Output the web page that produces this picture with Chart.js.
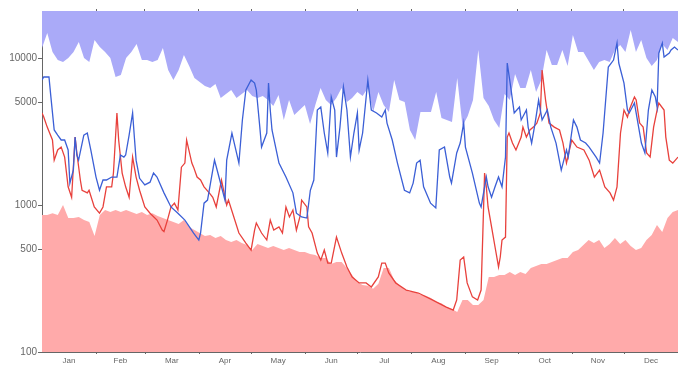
<!DOCTYPE html>
<html>
<head>
<meta charset="utf-8">
<script src="https://cdn.jsdelivr.net/npm/chart.js@4/dist/chart.umd.min.js"></script>
<style>
  html, body { margin: 0; padding: 0; background: #fff; overflow: hidden; }
  canvas { display: block; }
</style>
</head>
<body>
<canvas id="chart" width="678" height="365"></canvas>
<script>
// month labels and where each month starts (day of year)
const months = ['Jan', 'Feb', 'Mar', 'Apr', 'May', 'Jun', 'Jul', 'Aug', 'Sep', 'Oct', 'Nov', 'Dec'];
const monthStarts = [0, 31, 59, 90, 120, 151, 181, 212, 243, 273, 304, 334, 365];
const yTicks = [100, 500, 1000, 5000, 10000];

// envelopes, readings spread evenly over the year (about every 3 days)
const upperEnvelope = [
  11700, 14800, 10990, 9690, 9390, 10000, 10990, 12850, 10000, 9390,
  13260, 11880, 10990, 10000, 7430, 7660, 10000, 10990, 12450, 9690,
  9690, 9390, 9690, 11700, 8290, 7090, 8290, 10480, 8820, 7310,
  6870, 6450, 6250, 6660, 5350, 5690, 6060, 5350, 5690, 6060,
  5520, 5350, 5520, 5180, 4720, 5600, 3790, 5180, 4100, 4430,
  4790, 3560, 4790, 6250, 5180, 4790, 5350, 6250, 5020, 5350,
  5870, 5520, 6250, 4290, 5870, 4790, 4290, 7090, 5180, 5020,
  3240, 2770, 4290, 4290, 4290, 5870, 3910, 3790, 3670, 7310,
  3450, 4030, 5180, 11340, 5350, 4720, 3790, 3340, 5690, 5180,
  7790, 6250, 6250, 8290, 5870, 7090, 11340, 8960, 8960, 11340,
  8820, 14340, 10990, 10990, 9540, 8290, 9390, 9690, 9390, 11340,
  12260, 10990, 15500, 10990, 13260, 10000, 8820, 9690, 12450, 11340,
  13680, 12850
];
const lowerEnvelope = [
  855, 855, 880, 855, 1000, 815, 815, 830, 790, 766,
  615, 855, 925, 896, 925, 896, 925, 896, 868, 896,
  855, 880, 841, 815, 790, 766, 743, 790, 710, 675,
  645, 615, 625, 596, 615, 578, 560, 578, 551, 534,
  494, 543, 526, 510, 526, 510, 494, 510, 494, 479,
  479, 464, 457, 436, 436, 397, 409, 409, 373, 334,
  300, 286, 282, 269, 291, 373, 373, 309, 286, 264,
  256, 256, 245, 241, 233, 219, 215, 202, 196, 187,
  226, 226, 209, 209, 226, 324, 324, 334, 334, 350,
  334, 350, 339, 373, 385, 397, 397, 409, 422, 436,
  436, 479, 494, 534, 578, 551, 578, 510, 543, 596,
  543, 578, 526, 494, 510, 578, 625, 730, 655, 815,
  896, 925
];

// blue series
const blueDays = [
  0, 1, 4, 5, 7, 9, 11, 13, 15, 16, 18, 19, 20, 21, 24, 26, 28, 31, 33, 35,
  37, 40, 43, 45, 47, 48, 50, 52, 53, 54, 56, 59, 62, 64, 66, 70, 74, 78, 82, 85,
  87, 90, 91, 93, 95, 99, 102, 105, 106, 109, 113, 115, 117, 120, 122, 123, 125, 126, 129, 130,
  131, 132, 136, 140, 144, 146, 149, 152, 154, 156, 158, 160, 162, 164, 166, 168, 169, 171, 173, 175,
  177, 179, 181, 182, 184, 187, 189, 192, 195, 197, 198, 201, 204, 208, 211, 213, 215, 217, 219, 223,
  226, 228, 231, 234, 235, 238, 240, 242, 243, 247, 251, 252, 255, 256, 258, 260, 262, 264, 266, 267,
  269, 271, 274, 275, 278, 279, 281, 283, 285, 287, 290, 292, 295, 298, 301, 302, 305, 307, 309, 312,
  314, 318, 320, 322, 325, 328, 330, 331, 334, 336, 337, 340, 342, 344, 346, 348, 350, 352, 353, 354,
  356, 357, 360, 361, 363, 365
];
const blueLine = [
  7090, 7430, 7430, 5600, 3240, 2990, 2770, 2770, 2370, 1410, 1730, 2900, 2190, 2020, 2990, 3090, 2370, 1550, 1260, 1480,
  1480, 1550, 1550, 2190, 2120, 2190, 2990, 4230, 2900, 2020, 1520, 1370, 1430, 1650, 1550, 1210, 970, 880, 790, 700,
  645, 578, 645, 1030, 1080, 2020, 1480, 1080, 2020, 3090, 1930, 3790, 6060, 7090, 6760, 6060, 3390, 2480, 3090, 6760,
  4430, 3240, 1930, 1550, 1210, 880, 830, 815, 1260, 1480, 4430, 4640, 3090, 2260, 5430, 4430, 2120, 3390, 6350, 4430,
  2120, 3090, 4230, 2370, 3090, 7090, 4430, 4230, 3970, 4430, 3610, 2770, 1930, 1260, 1210, 1410, 1930, 2020, 1330, 1030,
  955, 2370, 2480, 1550, 1410, 2260, 2640, 3610, 2480, 1650, 1030, 970, 1550, 1330, 1130, 1330, 1550, 1330, 2120, 9250,
  6350, 4230, 4640, 3790, 4430, 3390, 2640, 3610, 5180, 3790, 4430, 3390, 2640, 1730, 2370, 2120, 3790, 3390, 2770, 2640,
  2480, 2120, 1930, 3090, 8690, 9690, 12650, 9250, 6760, 4430, 4230, 4940, 3610, 2640, 2260, 4430, 6060, 5430, 4640, 10810,
  12650, 10160, 10810, 11340, 11880, 11340
];

// red series
const redDays = [
  0, 1, 3, 6, 7, 9, 11, 13, 15, 17, 19, 20, 22, 23, 26, 27, 30, 33, 35, 37,
  40, 41, 43, 44, 46, 48, 50, 52, 54, 56, 59, 62, 66, 69, 70, 72, 74, 76, 78, 80,
  82, 83, 86, 87, 89, 91, 93, 96, 98, 100, 103, 106, 107, 113, 117, 120, 122, 123, 126, 129,
  131, 133, 136, 138, 140, 142, 144, 146, 148, 149, 152, 153, 155, 158, 160, 162, 164, 166, 169, 172,
  175, 178, 182, 186, 189, 193, 195, 197, 199, 203, 209, 216, 224, 232, 236, 238, 240, 242, 244, 247,
  250, 252, 253, 254, 255, 256, 258, 260, 262, 263, 264, 266, 267, 268, 270, 272, 275, 276, 278, 280,
  282, 284, 286, 287, 289, 291, 294, 297, 299, 301, 304, 307, 311, 314, 317, 320, 323, 326, 328, 330,
  332, 334, 336, 337, 340, 341, 343, 345, 347, 349, 351, 353, 354, 357, 358, 360, 362, 365
];
const redLine = [
  4230, 3970, 3390, 2770, 2020, 2370, 2480, 2120, 1330, 1130, 2900, 2260, 1480, 1260, 1210, 1260, 970, 880, 970, 1330,
  1330, 1650, 4230, 2770, 1650, 1330, 1130, 2120, 1550, 1260, 970, 880, 790, 675, 660, 790, 970, 1030, 925, 1810,
  1930, 2770, 1930, 1810, 1550, 1480, 1330, 1210, 1130, 970, 1480, 1000, 1080, 645, 551, 494, 675, 755, 645, 578,
  790, 675, 710, 645, 970, 830, 925, 675, 830, 1080, 970, 710, 645, 471, 422, 494, 403, 403, 605, 471,
  379, 324, 295, 295, 277, 324, 403, 403, 345, 295, 264, 252, 226, 202, 193, 226, 422, 443, 295, 237,
  226, 264, 645, 1650, 1330, 970, 710, 518, 379, 443, 578, 605, 2900, 3090, 2640, 2370, 2900, 3390, 2900, 3240,
  3390, 3610, 4230, 8290, 5180, 3610, 3390, 3240, 2640, 1930, 2770, 2480, 2370, 2020, 1550, 1730, 1330, 1210, 1080, 1330,
  3090, 4430, 3970, 4430, 5430, 5180, 3610, 3390, 2260, 2120, 3390, 4430, 4940, 4430, 2900, 2020, 1930, 2120
];

const toPoints = (days, values) => values.map((v, i) => ({ x: days[i], y: v }));
const envStep = 365 / (upperEnvelope.length - 1);
const envDays = upperEnvelope.map((_, i) => i * envStep);

const axisColor = '#666';
const fontFamily = '"Liberation Sans", Arial, sans-serif';

// small month boundary marks on the bottom axis
const bottomMarks = {
  id: 'bottomMarks',
  afterDraw(chart) {
    const { ctx, chartArea, scales } = chart;
    ctx.save();
    ctx.strokeStyle = axisColor;
    ctx.lineWidth = 1;
    monthStarts.slice(1, -1).forEach((d) => {
      const px = Math.round(scales.x.getPixelForValue(d)) + 0.5;
      ctx.beginPath();
      ctx.moveTo(px, chartArea.bottom);
      ctx.lineTo(px, chartArea.bottom + 2);
      ctx.stroke();
    });
    ctx.restore();
  },
};

new Chart(document.getElementById('chart'), {
  type: 'line',
  data: {
    datasets: [
      {
        label: 'blue',
        data: toPoints(blueDays, blueLine),
        borderColor: '#3b5fd6',
        borderWidth: 1.3,
        pointRadius: 0,
        fill: false,
        order: 0,
      },
      {
        label: 'red',
        data: toPoints(redDays, redLine),
        borderColor: '#e8413c',
        borderWidth: 1.3,
        pointRadius: 0,
        fill: false,
        order: 1,
      },
      {
        label: 'upper',
        data: toPoints(envDays, upperEnvelope),
        borderWidth: 0,
        borderColor: 'rgba(0,0,0,0)',
        backgroundColor: '#aaaaf8',
        pointRadius: 0,
        fill: 'end',
        order: 2,
      },
      {
        label: 'lower',
        data: toPoints(envDays, lowerEnvelope),
        borderWidth: 0,
        borderColor: 'rgba(0,0,0,0)',
        backgroundColor: '#ffaaaa',
        pointRadius: 0,
        fill: 'start',
        order: 3,
      },
    ],
  },
  options: {
    responsive: false,
    animation: false,
    devicePixelRatio: 1,
    layout: { padding: 0 },
    plugins: {
      legend: { display: false },
      tooltip: { enabled: false },
    },
    scales: {
      x: {
        type: 'linear',
        position: 'bottom',
        min: 0,
        max: 365,
        afterBuildTicks(scale) {
          scale.ticks = months.map((m, i) => ({ value: (monthStarts[i] + monthStarts[i + 1]) / 2 }));
        },
        afterFit(scale) { scale.height = 13; },
        ticks: {
          autoSkip: false,
          maxRotation: 0,
          padding: -4,
          color: '#666',
          font: { family: fontFamily, size: 8 },
          callback: (v, i) => months[i],
        },
        grid: { display: false },
        border: { display: true, color: axisColor, width: 1 },
      },
      xTop: {
        type: 'linear',
        position: 'top',
        min: 0,
        max: 365,
        afterBuildTicks(scale) {
          scale.ticks = monthStarts.slice(1, -1).map((d) => ({ value: d }));
        },
        afterFit(scale) { scale.height = 11; },
        ticks: { display: true, callback: () => '', font: { size: 1 } },
        grid: { drawOnChartArea: false, tickLength: 2, color: axisColor },
        border: { display: true, color: axisColor, width: 1 },
      },
      y: {
        type: 'logarithmic',
        min: 100,
        max: 20900,
        afterBuildTicks(scale) {
          scale.ticks = yTicks.map((v) => ({ value: v }));
        },
        afterFit(scale) { scale.width = 42; },
        ticks: {
          padding: 1,
          color: '#666',
          font: { family: fontFamily, size: 10 },
          callback: (v) => String(v),
        },
        grid: { drawOnChartArea: false, tickLength: 4, color: axisColor },
        border: { display: true, color: axisColor, width: 1 },
      },
    },
  },
  plugins: [bottomMarks],
});
</script>
</body>
</html>
